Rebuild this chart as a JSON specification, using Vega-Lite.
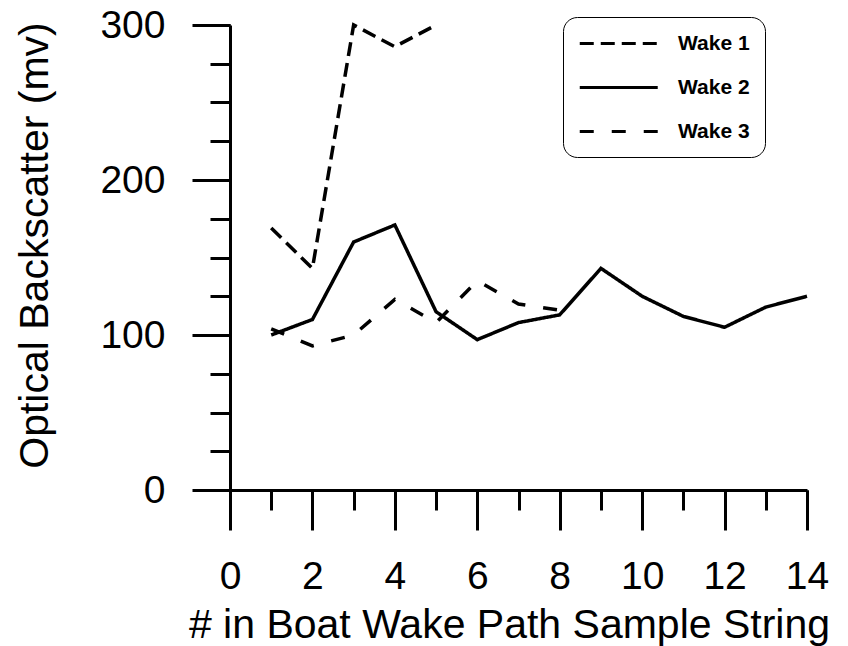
{
  "$schema": "https://vega.github.io/schema/vega-lite/v6.json",
  "width": 577,
  "height": 465,
  "autosize": "none",
  "padding": {"left": 230, "top": 25, "right": 41, "bottom": 156},
  "background": "white",
  "config": {"view": {"stroke": null}, "font": "Liberation Sans"},
  "data": {
    "values": [
      {"x": 1, "y": 169, "s": "Wake 1"},
      {"x": 2, "y": 143, "s": "Wake 1"},
      {"x": 3, "y": 300, "s": "Wake 1"},
      {"x": 4, "y": 286, "s": "Wake 1"},
      {"x": 5, "y": 300, "s": "Wake 1"},
      {"x": 1, "y": 100, "s": "Wake 2"},
      {"x": 2, "y": 110, "s": "Wake 2"},
      {"x": 3, "y": 160, "s": "Wake 2"},
      {"x": 4, "y": 171, "s": "Wake 2"},
      {"x": 5, "y": 115, "s": "Wake 2"},
      {"x": 6, "y": 97, "s": "Wake 2"},
      {"x": 7, "y": 108, "s": "Wake 2"},
      {"x": 8, "y": 113, "s": "Wake 2"},
      {"x": 9, "y": 143, "s": "Wake 2"},
      {"x": 10, "y": 125, "s": "Wake 2"},
      {"x": 11, "y": 112, "s": "Wake 2"},
      {"x": 12, "y": 105, "s": "Wake 2"},
      {"x": 13, "y": 118, "s": "Wake 2"},
      {"x": 14, "y": 125, "s": "Wake 2"},
      {"x": 1, "y": 104, "s": "Wake 3"},
      {"x": 2, "y": 93, "s": "Wake 3"},
      {"x": 3, "y": 100, "s": "Wake 3"},
      {"x": 4, "y": 123, "s": "Wake 3"},
      {"x": 5, "y": 108, "s": "Wake 3"},
      {"x": 6, "y": 135, "s": "Wake 3"},
      {"x": 7, "y": 120, "s": "Wake 3"},
      {"x": 8, "y": 116, "s": "Wake 3"}
    ]
  },
  "resolve": {"axis": {"x": "independent", "y": "independent"}},
  "layer": [
    {
      "mark": {"type": "point", "opacity": 0},
      "encoding": {
        "x": {
          "field": "x",
          "type": "quantitative",
          "scale": {"domain": [0, 14], "nice": false, "zero": false},
          "axis": {
            "orient": "bottom",
            "values": [0, 1, 2, 3, 4, 5, 6, 7, 8, 9, 10, 11, 12, 13, 14],
            "title": null,
            "labels": false,
            "domain": false,
            "grid": false,
            "tickColor": "black",
            "tickWidth": 3,
            "tickSize": 20
          }
        },
        "y": {
          "field": "y",
          "type": "quantitative",
          "scale": {"domain": [0, 300], "nice": false},
          "axis": {
            "orient": "left",
            "values": [0, 25, 50, 75, 100, 125, 150, 175, 200, 225, 250, 275, 300],
            "title": null,
            "labels": false,
            "domain": false,
            "grid": false,
            "tickColor": "black",
            "tickWidth": 3,
            "tickSize": 20
          }
        }
      }
    },
    {
      "mark": {"type": "line", "stroke": "black", "strokeWidth": 3.5, "clip": false},
      "encoding": {
        "x": {
          "field": "x",
          "type": "quantitative",
          "axis": {
            "orient": "bottom",
            "values": [0, 2, 4, 6, 8, 10, 12, 14],
            "title": "# in Boat Wake Path Sample String",
            "grid": false,
            "domainColor": "black",
            "domainWidth": 3,
            "tickColor": "black",
            "tickWidth": 3,
            "tickSize": 40,
            "labelFont": "Liberation Sans",
            "labelFontSize": 39,
            "labelColor": "black",
            "labelPadding": 27,
            "labelFlush": false,
            "labelOverlap": false,
            "titleFont": "Liberation Sans",
            "titleFontSize": 41,
            "titleFontWeight": "normal",
            "titleColor": "black",
            "titleX": 279,
            "titleY": 135,
            "titleBaseline": "middle",
            "titleAlign": "center"
          }
        },
        "y": {
          "field": "y",
          "type": "quantitative",
          "axis": {
            "orient": "left",
            "values": [0, 100, 200, 300],
            "title": "Optical Backscatter (mv)",
            "grid": false,
            "domainColor": "black",
            "domainWidth": 3,
            "tickColor": "black",
            "tickWidth": 3,
            "tickSize": 38,
            "labelFont": "Liberation Sans",
            "labelFontSize": 39,
            "labelColor": "black",
            "labelPadding": 27,
            "labelFlush": false,
            "labelOverlap": false,
            "titleFont": "Liberation Sans",
            "titleFontSize": 41,
            "titleFontWeight": "normal",
            "titleColor": "black",
            "titleAngle": -90,
            "titleX": -195,
            "titleY": 220,
            "titleBaseline": "middle",
            "titleAlign": "center"
          }
        },
        "strokeDash": {
          "field": "s",
          "type": "nominal",
          "scale": {"domain": ["Wake 1", "Wake 2", "Wake 3"], "range": [[14, 7], [1, 0], [14, 18]]},
          "legend": {
            "orient": "none",
            "legendX": 333,
            "legendY": -8,
            "title": null,
            "strokeColor": "black",
            "cornerRadius": 14,
            "padding": 15,
            "fillColor": "white",
            "labelFont": "Liberation Sans",
            "labelFontSize": 21,
            "labelFontWeight": "bold",
            "labelColor": "black",
            "labelOffset": 77,
            "rowPadding": 22,
            "symbolType": "M-1,0H7",
            "symbolSize": 380,
            "symbolStrokeWidth": 3,
            "symbolStrokeColor": "black"
          }
        }
      }
    }
  ]
}
